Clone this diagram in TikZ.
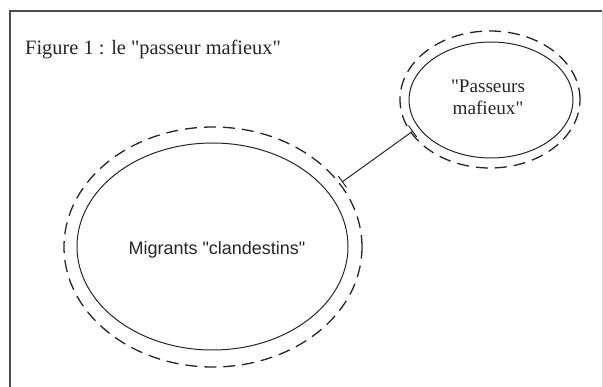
\documentclass[tikz,border=0pt]{standalone}
\usepackage{fontspec}
\setmainfont{Liberation Serif}[Ligatures=TeXOff]
\newfontfamily\labelsans{Liberation Sans}[Ligatures=TeXOff]
\usetikzlibrary{shapes.geometric,arrows.meta}
\begin{document}
\begin{tikzpicture}[x=1pt,y=-1pt,
  solidell/.style={draw=black!85,line width=1pt,ellipse,inner sep=0pt},
  dashell/.style={draw=black!85,line width=1.3pt,ellipse,inner sep=0pt,dash pattern=on 12pt off 7pt},
  framestyle/.style={draw=black!70,line width=1.4pt},
  link/.style={draw=black!85,line width=1pt,{Bar[width=14pt,line width=1pt]}-{Bar[width=14pt,line width=1pt]}}
]
\useasboundingbox (0,0) rectangle (603,387);
\fill[white] (0,0) rectangle (603,387);
% frame
\draw[framestyle] (10,400) -- (10,11) -- (602,11);
\draw[draw=black!15,line width=1pt] (602,11) -- (602,400);
% title
\node[anchor=base west,inner sep=0pt,font=\fontsize{20.4}{24}\selectfont,text=black!85] (title) at (25,55) {Figure 1 : le "passeur mafieux"};
% big ellipse
\node[solidell,minimum width=271pt,minimum height=207pt] (mig) at (212.5,246.5) {};
\node[dashell,minimum width=298pt,minimum height=240pt] (migd) at (213,247) {};
\node[anchor=base,inner sep=0pt,font=\labelsans\fontsize{18}{22}\selectfont,text=black!85] (migtxt) at (217,255) {Migrants "clandestins"};
% small ellipse
\node[solidell,minimum width=164pt,minimum height=116pt] (pas) at (491,100) {};
\node[dashell,minimum width=180pt,minimum height=137pt] (pasd) at (490,99.5) {};
\node[align=center,inner sep=0pt,font=\fontsize{19.2}{22}\selectfont,text=black!85] (pastxt) at (488,97) {"Passeurs\\mafieux"};
% connector
\coordinate (a) at (342,182);
\coordinate (b) at (413,131);
\draw[link] (a) -- (b);
\end{tikzpicture}
\end{document}
